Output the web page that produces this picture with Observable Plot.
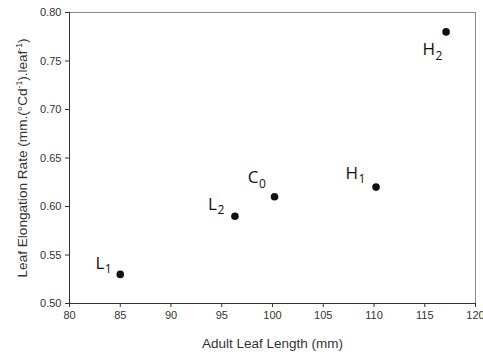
<!DOCTYPE html>
<html>
<head>
<meta charset="utf-8">
<script src="https://cdn.jsdelivr.net/npm/d3@7"></script>
<script src="https://cdn.jsdelivr.net/npm/@observablehq/plot@0.6"></script>
<style>
  html, body { margin: 0; padding: 0; background: #fff; }
  #chart svg { display: block; }
</style>
</head>
<body>
<div id="chart"></div>
<script>
// Data
const leafLength = [85, 96.3, 100.2, 110.2, 117.1];
const elongationRate = [0.53, 0.59, 0.61, 0.62, 0.78];
const labelLetters = ["L", "L", "C", "H", "H"];
const labelSubscripts = ["1", "2", "0", "1", "2"];
const xTicks = [80, 85, 90, 95, 100, 105, 110, 115, 120];
const yTicks = [0.50, 0.55, 0.60, 0.65, 0.70, 0.75, 0.80];
const xTitle = "Adult Leaf Length (mm)";
const yTitleParts = [["Leaf Elongation Rate (mm.(°Cd", false], ["-1", true], [").leaf", false], ["-1", true], [")", false]];
const yTitle = yTitleParts.map(p => p[0]).join("");

const data = leafLength.map((x, i) => ({
  x, y: elongationRate[i], letter: labelLetters[i], sub: labelSubscripts[i]
}));

// label placement (layout, not data): letter right edge dx, vertical dy
const labelPlacement = [
  {dx: -16, dy: -11},
  {dx: -18, dy: -12},
  {dx: -16, dy: -19},
  {dx: -18, dy: -14},
  {dx: -11, dy: 18}
];

const labelMarks = data.flatMap((d, i) => {
  const p = labelPlacement[i];
  return [
    Plot.text([d], {x: "x", y: "y", text: "letter", textAnchor: "end",
      dx: p.dx, dy: p.dy, fontSize: 17, fill: "#111",
      fontFamily: "Open Sans"}),
    Plot.text([d], {x: "x", y: "y", text: "sub", textAnchor: "start",
      dx: p.dx + 0.5, dy: p.dy + 6, fontSize: 12, fill: "#111",
      fontFamily: "Open Sans"})
  ];
});

const chart = Plot.plot({
  width: 483,
  height: 354,
  marginLeft: 69,
  marginRight: 8,
  marginTop: 12,
  marginBottom: 51,
  style: {fontFamily: "Liberation Sans, Arial, sans-serif", fontSize: "11px", color: "#333", background: "#fff"},
  x: {domain: [80, 120], ticks: xTicks},
  y: {domain: [0.50, 0.80], ticks: yTicks, tickFormat: d3.format(".2f")},
  marks: [
    Plot.frame({stroke: "#888"}),
    Plot.ruleY([0.50], {stroke: "#333"}),
    Plot.ruleX([80], {stroke: "#333"}),
    Plot.axisX({ticks: xTicks, tickSize: 4, tickPadding: 4, stroke: "#333",
      label: xTitle, labelAnchor: "center", labelArrow: "none",
      labelOffset: 44, fontSize: 11}),
    Plot.axisY({ticks: yTicks, tickSize: 4, tickPadding: 4, stroke: "#333",
      tickFormat: d3.format(".2f"),
      label: yTitle, labelAnchor: "center",
      labelArrow: "none", labelOffset: 52, fontSize: 11}),
    Plot.dot(data, {x: "x", y: "y", r: 3.8, fill: "#111", stroke: "none"}),
    ...labelMarks
  ]
});

// axis titles: larger, and real superscripts on the y title
chart.querySelectorAll("text").forEach(t => {
  const s = t.textContent;
  if (s === xTitle) {
    t.setAttribute("font-size", "13.5");
    t.style.fontSize = "13.5px";
  } else if (s === yTitle) {
    t.setAttribute("font-size", "13.6");
    t.style.fontSize = "13.6px";
    while (t.firstChild) t.removeChild(t.firstChild);
    const ns = "http://www.w3.org/2000/svg";
    yTitleParts.forEach(([str, sup]) => {
      const ts = document.createElementNS(ns, "tspan");
      ts.textContent = str;
      if (sup) {
        ts.setAttribute("font-size", "8.5");
        ts.setAttribute("baseline-shift", "super");
      }
      t.appendChild(ts);
    });
  }
});

document.getElementById("chart").appendChild(chart);
</script>
</body>
</html>
